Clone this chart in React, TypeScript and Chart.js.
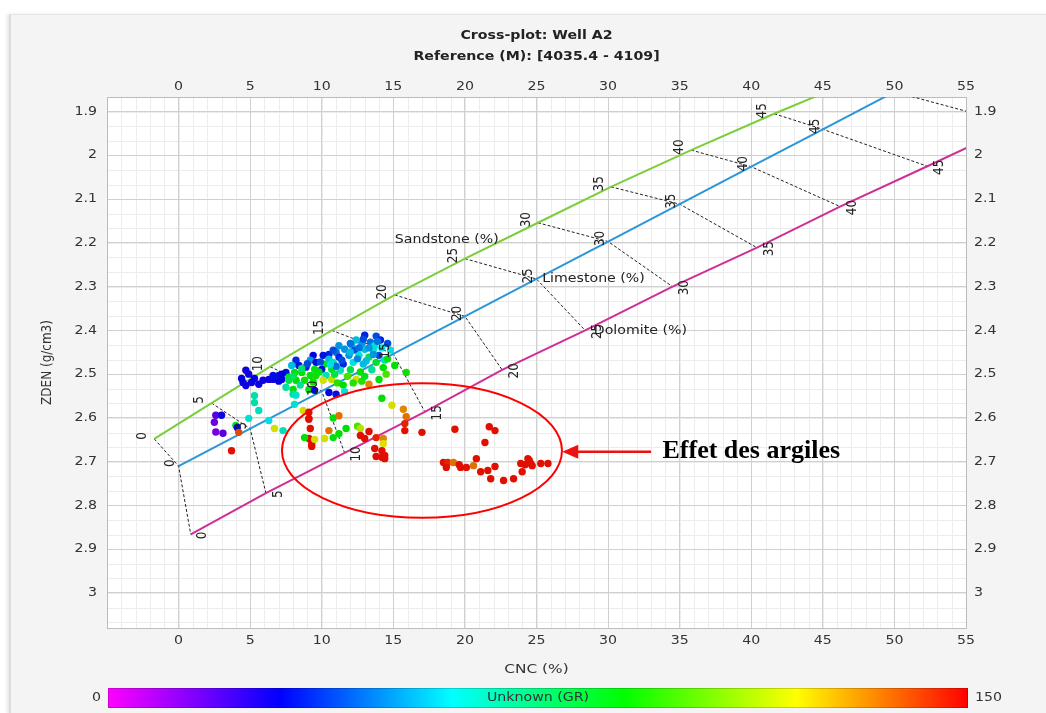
import React, { useEffect, useRef } from 'react';
import { Chart, registerables } from 'chart.js';
Chart.register(...registerables);

// ---- axes ----
const xTickValues = [0, 5, 10, 15, 20, 25, 30, 35, 40, 45, 50, 55];
const yTickValues = [1.9, 2, 2.1, 2.2, 2.3, 2.4, 2.5, 2.6, 2.7, 2.8, 2.9, 3];
const xRange = [-5, 55];
const yRange = [1.8667, 3.08];

// ---- lithology lines (porosity %) ----
const porosity = [0, 5, 10, 15, 20, 25, 30, 35, 40, 45, 50];
const sandstoneCNC = [-1.7, 2.3, 6.4, 10.7, 15.1, 20.0, 25.1, 30.2, 35.8, 41.6, 47.6];
const sandstoneZDEN = [2.648, 2.566, 2.483, 2.4, 2.319, 2.236, 2.154, 2.072, 1.988, 1.905, 1.823];
const limestoneCNC = [0, 5, 10, 15, 20, 25, 30, 35, 40, 45, 50];
const limestoneZDEN = [2.71, 2.6245, 2.539, 2.4535, 2.368, 2.2825, 2.197, 2.1115, 2.026, 1.9405, 1.855];
const dolomiteCNC = [0.85, 6.1, 11.6, 17.2, 22.6, 28.4, 34.5, 40.4, 46.2, 52.3, 58.5];
const dolomiteZDEN = [2.866, 2.772, 2.68, 2.586, 2.49, 2.4, 2.3, 2.211, 2.117, 2.025, 1.93];
const lithoNames = ['Sandstone (%)', 'Limestone (%)', 'Dolomite (%)'];
const lithoNameCNC = [15.1, 25.4, 29.0];
const lithoNameZDEN = [2.193, 2.282, 2.4];

// ---- well samples: CNC (%), ZDEN (g/cm3), GR ----
const cnc = [
  2.6, 3.0, 2.5, 2.6, 3.1, 4.0, 4.1, 4.2, 3.7,
  5.3, 5.3, 5.6, 4.9, 6.3, 7.3, 6.7,
  4.5, 4.7, 5.1, 5.6, 5.9, 6.3, 6.6, 7.0, 7.2, 4.7, 4.9, 6.6, 5.3, 7.5, 7.0, 4.4,
  13.0, 13.8, 14.1, 12.4, 12.8, 13.4, 12.1, 11.6, 12.3, 13.0,
  13.6, 11.0, 10.5, 10.1, 10.5, 11.2, 11.9, 12.6, 13.3, 14.0,
  9.4, 9.2, 9.6, 10.2, 10.8, 11.5, 12.2, 12.9, 13.8, 14.4,
  8.2, 8.4, 7.9, 8.9, 9.5, 10.0, 10.7, 11.3, 8.1, 8.6,
  9.2, 9.6, 10.3, 7.7, 8.2, 8.8, 9.4, 8.5, 9.1, 7.7,
  7.5, 8.0, 10.1, 10.7, 11.1, 11.5, 12.4, 12.8, 13.3, 14.0,
  10.5, 11.0, 9.5, 11.6, 12.0, 11.2, 10.8, 13.7, 14.2, 12.6,
  9.9, 11.0, 12.0, 12.7, 13.5, 14.3,
  12.0, 12.5, 13.1, 13.6, 11.4, 10.6, 9.0, 8.6, 9.8, 10.9,
  11.8, 13.0, 12.2, 7.2, 8.0, 13.9, 12.9, 13.3, 14.6, 14.8,
  15.1, 15.9, 14.2, 14.9, 15.7, 15.9, 15.8, 15.8, 17.0, 14.6, 14.5,
  8.0, 8.1, 8.7, 9.1, 9.1, 9.1, 9.2, 9.1, 9.3, 9.3, 8.8, 9.5, 10.2, 10.8, 11.2, 10.5, 11.7,
  12.5, 12.7, 13.3, 12.7, 13.0, 13.8, 14.3, 14.3, 13.7, 14.2, 13.8, 14.2, 14.4, 14.4, 10.8, 11.2, 8.2,
  19.3, 21.7, 22.1, 21.4, 20.8, 18.5, 18.8, 19.2, 18.7, 19.6, 19.7, 20.1, 20.6, 21.1,
  21.6, 22.1, 21.8, 22.7, 23.4, 24.0, 23.9, 24.4, 24.5, 24.6, 24.7, 25.3, 25.8, 24.2,
];
const zden = [
  2.594, 2.594, 2.61, 2.632, 2.635, 2.617, 2.622, 2.633, 2.675,
  2.549, 2.565, 2.583, 2.601, 2.606, 2.629, 2.624,
  2.519, 2.526, 2.519, 2.523, 2.514, 2.512, 2.512, 2.516, 2.512, 2.491, 2.5, 2.503, 2.51, 2.496, 2.503, 2.51,
  2.411, 2.413, 2.422, 2.422, 2.431, 2.427, 2.434, 2.443, 2.445, 2.443,
  2.445, 2.45, 2.455, 2.457, 2.466, 2.461, 2.457, 2.457, 2.461, 2.457,
  2.457, 2.468, 2.473, 2.477, 2.473, 2.477, 2.473, 2.477, 2.473, 2.468,
  2.468, 2.48, 2.48, 2.484, 2.489, 2.489, 2.489, 2.491, 2.496, 2.496,
  2.503, 2.503, 2.503, 2.507, 2.514, 2.514, 2.518, 2.525, 2.535, 2.514,
  2.53, 2.535, 2.514, 2.512, 2.52, 2.525, 2.512, 2.516, 2.523, 2.512,
  2.542, 2.546, 2.537, 2.54, 2.43, 2.435, 2.445, 2.435, 2.44, 2.44,
  2.472, 2.482, 2.49, 2.495, 2.49, 2.485,
  2.45, 2.465, 2.47, 2.455, 2.468, 2.478, 2.476, 2.487, 2.495, 2.5,
  2.505, 2.505, 2.52, 2.5, 2.505, 2.425, 2.42, 2.44, 2.43, 2.445,
  2.48, 2.496, 2.555, 2.571, 2.58, 2.597, 2.613, 2.629, 2.633, 2.465, 2.5,
  2.546, 2.569, 2.583, 2.603, 2.587, 2.601, 2.624, 2.647, 2.659, 2.665, 2.645, 2.649, 2.647, 2.645, 2.636, 2.629, 2.624,
  2.619, 2.624, 2.631, 2.64, 2.647, 2.645, 2.647, 2.659, 2.67, 2.675, 2.688, 2.69, 2.686, 2.693, 2.6, 2.595, 2.548,
  2.626, 2.62, 2.629, 2.656, 2.693, 2.702, 2.702, 2.702, 2.713, 2.707, 2.713, 2.713, 2.709, 2.723,
  2.72, 2.711, 2.739, 2.743, 2.739, 2.723, 2.704, 2.693, 2.697, 2.704, 2.709, 2.704, 2.704, 2.707,
];
const gr = [
  18, 28, 15, 14, 18, 85, 30, 140, 148,
  68, 68, 65, 62, 60, 65, 118,
  28, 28, 28, 28, 28, 28, 28, 30, 30, 28, 28, 32, 30, 32, 32, 30,
  35, 40, 35, 55, 50, 45, 55, 50, 40, 55,
  60, 45, 35, 32, 55, 35, 50, 60, 80, 40,
  30, 50, 32, 85, 62, 35, 60, 55, 85, 65,
  35, 32, 55, 35, 88, 32, 85, 65, 88, 90,
  88, 92, 65, 85, 90, 92, 90, 70, 88, 80,
  68, 90, 118, 115, 95, 90, 118, 95, 132, 90,
  30, 32, 30, 60, 45, 50, 40, 62, 60, 45,
  40, 45, 80, 90, 70, 90,
  55, 48, 55, 50, 40, 60, 40, 75, 88, 80,
  100, 85, 95, 30, 78, 45, 40, 50, 40, 60,
  90, 92, 90, 118, 132, 135, 145, 148, 148, 88, 100,
  70, 62, 118, 148, 148, 148, 148, 148, 148, 148, 90, 118, 118, 88, 90, 135, 90,
  100, 115, 148, 148, 148, 145, 132, 120, 148, 148, 148, 148, 148, 148, 88, 135, 62,
  148, 148, 148, 148, 148, 148, 145, 135, 148, 148, 148, 148, 135, 148,
  148, 148, 148, 148, 148, 148, 148, 148, 148, 148, 148, 148, 148, 148,
];
const grRange = [0, 150];

// ---- annotation ----
const ellipseCenter = [17.0, 2.6745];
const ellipseRadius = [9.78, 0.1535];
const arrowCNC = [33.0, 26.8];
const arrowZDEN = 2.677;
const annotationText = 'Effet des argiles';
const annotationCNC = 33.8;

const FONT = "'DejaVu Sans', Verdana, sans-serif";
const SX = 1.18;

const grStops: [number, number[]][] = [
  [0, [255, 0, 255]],
  [0.2, [0, 0, 255]],
  [0.4, [0, 255, 255]],
  [0.6, [0, 255, 0]],
  [0.8, [255, 255, 0]],
  [1, [255, 0, 0]],
];

function grColor(v: number, k = 0.88) {
  let t = (v - grRange[0]) / (grRange[1] - grRange[0]);
  t = Math.max(0, Math.min(1, t));
  for (let i = 1; i < grStops.length; i++) {
    const [t1, c1] = grStops[i];
    const [t0, c0] = grStops[i - 1];
    if (t <= t1) {
      const f = (t - t0) / (t1 - t0);
      const c = c0.map((a, j) => Math.round((a + (c1[j] - a) * f) * k));
      return `rgb(${c[0]},${c[1]},${c[2]})`;
    }
  }
  return 'rgb(220,0,0)';
}

function txt(ctx: CanvasRenderingContext2D, s: string, x: number, y: number, o: any = {}) {
  const { size = 12, weight = 'normal', align = 'center', color = '#333', family = FONT, sx = SX, rot = 0 } = o;
  ctx.save();
  ctx.translate(x, y);
  ctx.scale(sx, 1);
  if (rot) ctx.rotate(rot);
  ctx.font = `${weight} ${size}px ${family}`;
  ctx.textAlign = align;
  ctx.textBaseline = 'middle';
  ctx.fillStyle = color;
  ctx.fillText(s, 0, 0);
  ctx.restore();
}

const framePlugin = {
  id: 'frame',
  beforeDraw(chart: any) {
    const { ctx, chartArea: a, scales } = chart;
    ctx.save();
    ctx.fillStyle = '#ffffff';
    ctx.fillRect(a.left, a.top, a.right - a.left, a.bottom - a.top);
    ctx.strokeStyle = '#ececec';
    ctx.lineWidth = 1;
    ctx.beginPath();
    for (let v = xRange[0]; v <= xRange[1]; v += 1) {
      const p = Math.round(scales.x.getPixelForValue(v)) + 0.5;
      ctx.moveTo(p, a.top);
      ctx.lineTo(p, a.bottom);
    }
    for (let k = 0; ; k++) {
      const v = yRange[0] + k / 30;
      if (v > yRange[1]) break;
      const p = Math.round(scales.y.getPixelForValue(v)) + 0.5;
      ctx.moveTo(a.left, p);
      ctx.lineTo(a.right, p);
    }
    ctx.stroke();
    ctx.restore();
  },
  afterDatasetsDraw(chart: any) {
    const { ctx, chartArea: a, scales } = chart;
    const X = (v: number) => scales.x.getPixelForValue(v);
    const Y = (v: number) => scales.y.getPixelForValue(v);
    ctx.save();
    ctx.beginPath();
    ctx.rect(a.left, a.top, a.right - a.left, a.bottom - a.top);
    ctx.clip();
    porosity.forEach((p, i) => {
      if (p > 45) return;
      const lab = String(p);
      txt(ctx, lab, X(sandstoneCNC[i]) - 12, Y(sandstoneZDEN[i]) - 3, { rot: -Math.PI / 2, color: '#222' });
      txt(ctx, lab, X(limestoneCNC[i]) - 8, Y(limestoneZDEN[i]) - 3, { rot: -Math.PI / 2, color: '#222' });
      txt(ctx, lab, X(dolomiteCNC[i]) + 12, Y(dolomiteZDEN[i]) + 1, { rot: -Math.PI / 2, color: '#222' });
    });
    lithoNames.forEach((n, i) => {
      txt(ctx, n, X(lithoNameCNC[i]), Y(lithoNameZDEN[i]), { align: 'left', color: '#222' });
    });
    // ellipse
    const cx = X(ellipseCenter[0]);
    const cy = Y(ellipseCenter[1]);
    const rx = Math.abs(X(ellipseCenter[0] + ellipseRadius[0]) - cx);
    const ry = Math.abs(Y(ellipseCenter[1] + ellipseRadius[1]) - cy);
    ctx.beginPath();
    ctx.ellipse(cx, cy, rx, ry, 0, 0, Math.PI * 2);
    ctx.strokeStyle = '#ff0000';
    ctx.lineWidth = 2;
    ctx.stroke();
    // arrow
    const ay = Y(arrowZDEN);
    const ax0 = X(arrowCNC[0]);
    const ax1 = X(arrowCNC[1]);
    ctx.strokeStyle = '#ee1111';
    ctx.fillStyle = '#ee1111';
    ctx.lineWidth = 2.5;
    ctx.beginPath();
    ctx.moveTo(ax0, ay);
    ctx.lineTo(ax1 + 12, ay);
    ctx.stroke();
    ctx.beginPath();
    ctx.moveTo(ax1, ay);
    ctx.lineTo(ax1 + 16, ay - 7);
    ctx.lineTo(ax1 + 16, ay + 7);
    ctx.closePath();
    ctx.fill();
    txt(ctx, annotationText, X(annotationCNC), ay, {
      size: 26, weight: 'bold', align: 'left', color: '#000', family: "'Liberation Serif', 'Times New Roman', serif", sx: 1,
    });
    ctx.restore();
  },
  afterDraw(chart: any) {
    const { ctx, chartArea: a, scales } = chart;
    const X = (v: number) => scales.x.getPixelForValue(v);
    const Y = (v: number) => scales.y.getPixelForValue(v);
    xTickValues.forEach((v) => {
      txt(ctx, String(v), X(v), a.top - 10);
      txt(ctx, String(v), X(v), a.bottom + 13);
    });
    yTickValues.forEach((v) => {
      const s = String(+v.toFixed(2));
      txt(ctx, s, a.left - 10, Y(v), { align: 'right' });
      txt(ctx, s, a.right + 8, Y(v), { align: 'left' });
    });
    const mid = (a.left + a.right) / 2;
    txt(ctx, 'Cross-plot: Well A2', mid, 36, { weight: 'bold', color: '#222' });
    txt(ctx, 'Reference (M): [4035.4 - 4109]', mid, 57, { weight: 'bold', color: '#222' });
    txt(ctx, 'CNC (%)', mid, 670, { size: 13 });
    txt(ctx, 'ZDEN (g/cm3)', 47, (a.top + a.bottom) / 2, { rot: -Math.PI / 2 });
    // colour bar
    const bx0 = a.left + 1;
    const bx1 = a.right + 2;
    const by0 = 688;
    const bh = 20;
    const g = ctx.createLinearGradient(bx0, 0, bx1, 0);
    grStops.forEach(([t, c]) => g.addColorStop(t, `rgb(${c[0]},${c[1]},${c[2]})`));
    ctx.save();
    ctx.fillStyle = g;
    ctx.fillRect(bx0, by0, bx1 - bx0, bh);
    ctx.strokeStyle = 'rgba(0,0,0,0.18)';
    ctx.lineWidth = 1;
    ctx.strokeRect(bx0 + 0.5, by0 + 0.5, bx1 - bx0 - 1, bh - 1);
    ctx.restore();
    txt(ctx, 'Unknown (GR)', (bx0 + bx1) / 2, by0 + bh / 2, { color: '#333' });
    txt(ctx, String(grRange[0]), bx0 - 7, by0 + bh / 2, { align: 'right' });
    txt(ctx, String(grRange[1]), bx1 + 7, by0 + bh / 2, { align: 'left' });
  },
};

export default function App() {
  const ref = useRef<HTMLCanvasElement | null>(null);
  useEffect(() => {
    if (!ref.current) return;
    const line = (xs: number[], ys: number[]) => xs.map((x, i) => ({ x, y: ys[i] }));
    const porosityLines = porosity.map((p, i) => ({
      label: `Phi ${p}`,
      data: [
        { x: sandstoneCNC[i], y: sandstoneZDEN[i] },
        { x: limestoneCNC[i], y: limestoneZDEN[i] },
        { x: dolomiteCNC[i], y: dolomiteZDEN[i] },
      ],
      showLine: true,
      borderColor: '#222',
      borderWidth: 1,
      borderDash: [3, 2],
      pointRadius: 0,
    }));
    const hiddenScale = (pos: string, range: number[], fit: (s: any) => void, ticks: number[], grid: boolean, reverse = false) => ({
      type: 'linear',
      position: pos,
      min: range[0],
      max: range[1],
      reverse,
      afterBuildTicks: (s: any) => {
        s.ticks = ticks.map((v) => ({ value: v }));
      },
      afterFit: fit,
      ticks: { display: false },
      grid: { display: grid, color: '#d0d0d0', drawTicks: false, lineWidth: 1 },
      border: { display: true, color: '#bcbcbc', width: 1 },
    });
    const chart = new Chart(ref.current, {
      type: 'scatter',
      data: {
        datasets: [
          {
            label: 'GR',
            data: line(cnc, zden),
            pointBackgroundColor: gr.map((v) => grColor(v)),
            pointBorderWidth: 0,
            pointRadius: 3.7,
            showLine: false,
          },
          { label: 'Sandstone', data: line(sandstoneCNC, sandstoneZDEN), showLine: true, borderColor: '#7ccd3a', borderWidth: 2, pointRadius: 0 },
          { label: 'Limestone', data: line(limestoneCNC, limestoneZDEN), showLine: true, borderColor: '#2a97d8', borderWidth: 2, pointRadius: 0 },
          { label: 'Dolomite', data: line(dolomiteCNC, dolomiteZDEN), showLine: true, borderColor: '#cf2e96', borderWidth: 2, pointRadius: 0 },
          ...porosityLines,
        ] as any,
      },
      options: {
        animation: false,
        responsive: false,
        layout: { padding: { top: 70, bottom: 25, left: 0, right: 0 } },
        plugins: { legend: { display: false }, tooltip: { enabled: false }, title: { display: false } },
        scales: {
          x: hiddenScale('bottom', xRange, (s) => { s.height = 60; }, xTickValues, true),
          x2: hiddenScale('top', xRange, (s) => { s.height = 27; }, xTickValues, false),
          y: hiddenScale('left', yRange, (s) => { s.width = 107; }, yTickValues, true, true),
          y2: hiddenScale('right', yRange, (s) => { s.width = 80; }, yTickValues, false, true),
        } as any,
      },
      plugins: [framePlugin],
    });
    return () => chart.destroy();
  }, []);
  return (
    <div style={{ position: 'absolute', left: 0, top: 0, width: 1046, height: 713, background: '#ffffff', overflow: 'hidden' }}>
      <div
        style={{
          position: 'absolute', left: 9, top: 14, width: 1037, height: 699, background: '#f4f4f4',
          borderLeft: '2px solid #dcdcdc', borderTop: '1px solid #e6e6e6', boxShadow: '-2px 0 3px rgba(0,0,0,0.10)',
        }}
      />
      <canvas ref={ref} width={1046} height={713} style={{ position: 'absolute', left: 0, top: 0 }} />
    </div>
  );
}
